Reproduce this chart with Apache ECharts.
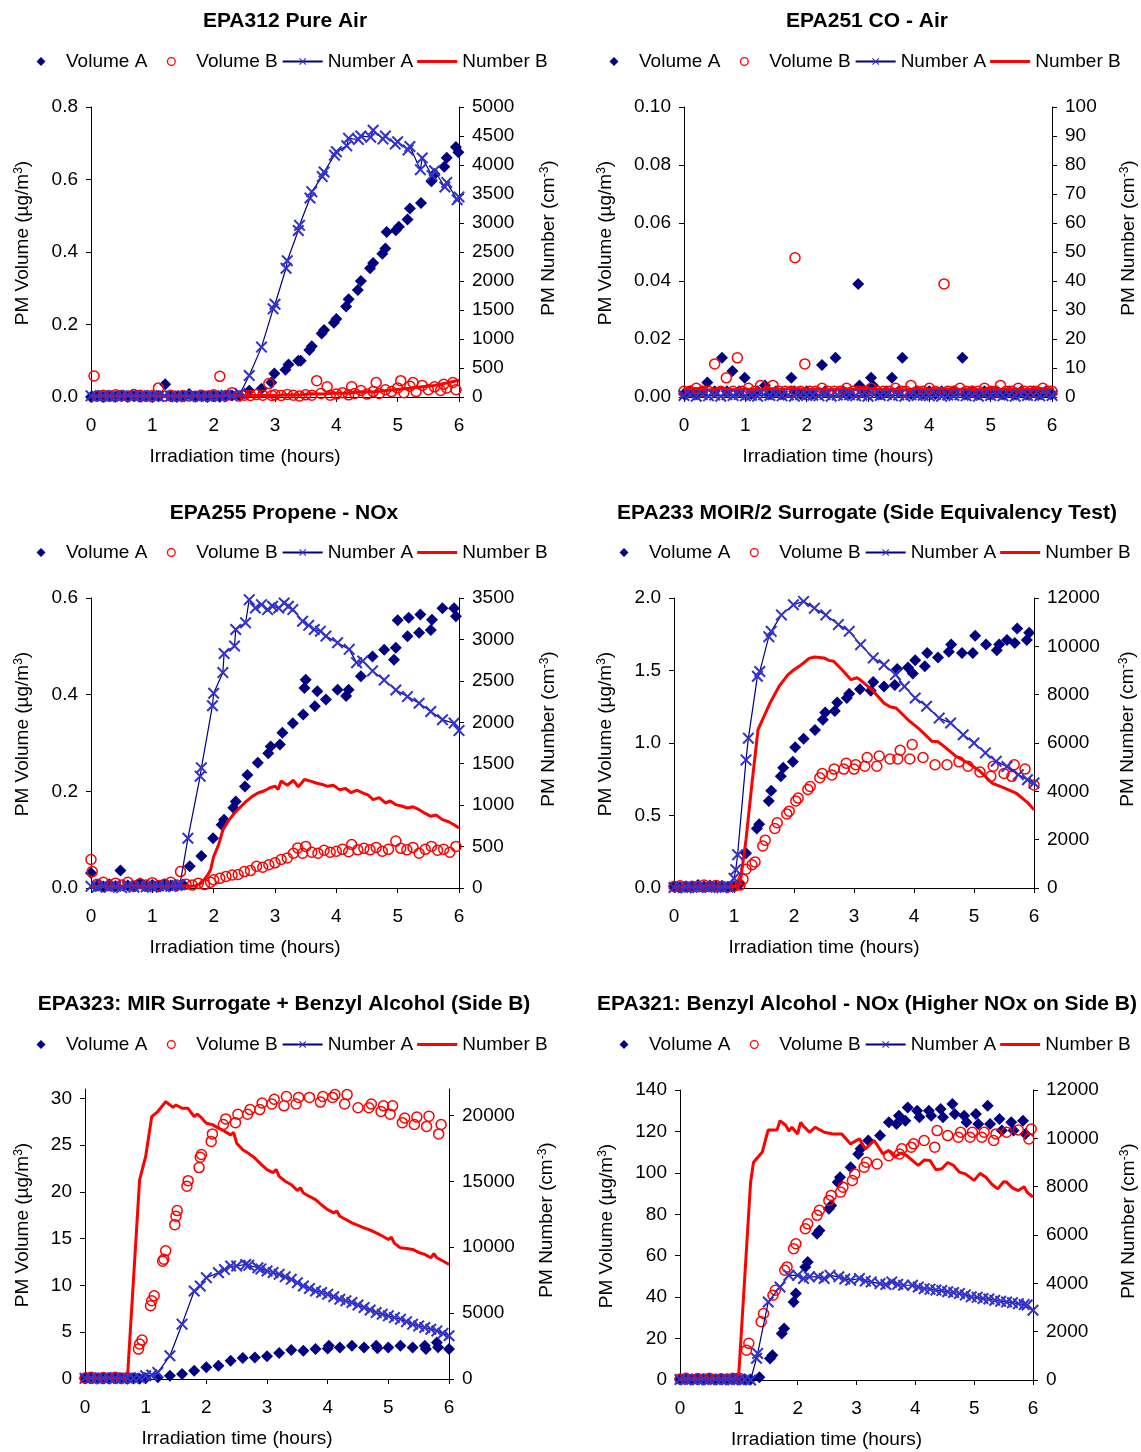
<!DOCTYPE html>
<html>
<head>
<meta charset="utf-8">
<script src="https://cdn.jsdelivr.net/npm/echarts@6/dist/echarts.min.js"></script>
<style>
  html, body { margin: 0; padding: 0; background: #fff; }
  #chart { width: 1141px; height: 1452px; }
</style>
</head>
<body>
<div id="chart"></div>
<script>
// ---- data: [time (hours), value] ----
// EPA312 Pure Air
const epa312VolA = [[0,0],[0.1,0.002],[0.2,0],[0.3,0.003],[0.4,0.001],[0.5,0.002],[0.6,0],[0.7,0.002],[0.8,0.001],[0.9,0.003],[1.0,0],[1.1,0.002],[1.21,0.035],[1.3,0.002],[1.4,0],[1.5,0.002],[1.6,0.008],[1.7,0.001],[1.8,0.002],[1.9,0],[2.0,0.003],[2.1,0.001],[2.2,0.002],[2.3,0.004],[2.43,0.003],[2.58,0.017],[2.78,0.023],[2.94,0.04],[2.99,0.065],[3.17,0.075],[3.22,0.09],[3.38,0.1],[3.42,0.1],[3.56,0.13],[3.6,0.14],[3.76,0.175],[3.8,0.185],[3.96,0.205],[4.0,0.215],[4.16,0.25],[4.2,0.27],[4.35,0.295],[4.4,0.32],[4.55,0.355],[4.6,0.37],[4.75,0.395],[4.8,0.41],[4.82,0.455],[4.97,0.46],[5.02,0.47],[5.16,0.49],[5.2,0.52],[5.38,0.535],[5.55,0.595],[5.6,0.615],[5.76,0.635],[5.8,0.66],[5.95,0.69],[5.99,0.675]];
const epa312VolB = [[0.05,0.058],[0.1,0.003],[0.2,0.005],[0.3,0.002],[0.4,0.006],[0.5,0.004],[0.6,0.003],[0.7,0.007],[0.8,0.005],[0.9,0.002],[1.0,0.004],[1.1,0.025],[1.2,0.003],[1.3,0.005],[1.4,0.002],[1.5,0.004],[1.6,0.003],[1.7,0.002],[1.8,0.005],[1.9,0.003],[2.0,0.006],[2.1,0.057],[2.2,0.004],[2.3,0.012],[2.4,0.003],[2.5,0.005],[2.6,0.004],[2.7,0.007],[2.8,0.005],[2.9,0.037],[2.95,0.004],[3.0,0.006],[3.1,0.004],[3.2,0.007],[3.3,0.005],[3.4,0.003],[3.5,0.006],[3.6,0.005],[3.68,0.045],[3.75,0.01],[3.85,0.028],[3.9,0.005],[4.0,0.008],[4.1,0.012],[4.2,0.006],[4.25,0.028],[4.3,0.01],[4.4,0.018],[4.5,0.008],[4.6,0.015],[4.65,0.04],[4.7,0.01],[4.8,0.02],[4.9,0.015],[5.0,0.025],[5.05,0.045],[5.1,0.012],[5.2,0.03],[5.25,0.04],[5.3,0.015],[5.4,0.032],[5.5,0.02],[5.6,0.028],[5.7,0.018],[5.75,0.035],[5.8,0.025],[5.9,0.04],[5.95,0.02]];
const epa312NumA = [[0,20],[0.1,10],[0.2,25],[0.3,5],[0.4,20],[0.5,15],[0.6,30],[0.7,10],[0.8,20],[0.9,5],[1.0,25],[1.1,10],[1.2,20],[1.3,15],[1.4,5],[1.5,20],[1.6,10],[1.7,25],[1.8,10],[1.9,15],[2.0,20],[2.1,10],[2.2,30],[2.3,30],[2.43,60],[2.58,370],[2.78,860],[2.97,1520],[3.0,1600],[3.18,2220],[3.2,2350],[3.38,2870],[3.4,2960],[3.57,3430],[3.6,3540],[3.77,3800],[3.8,3880],[3.97,4170],[4.0,4230],[4.17,4330],[4.2,4460],[4.36,4440],[4.4,4500],[4.56,4480],[4.6,4600],[4.76,4450],[4.8,4500],[4.96,4360],[5.0,4400],[5.17,4260],[5.2,4320],[5.37,3920],[5.4,4120],[5.56,3820],[5.6,3900],[5.77,3620],[5.8,3700],[5.97,3400],[6.0,3450]];
const epa312NumB = [[0,10],[0.2,20],[0.4,15],[0.6,25],[0.8,15],[1.0,20],[1.2,10],[1.4,20],[1.6,15],[1.8,20],[2.0,10],[2.2,20],[2.4,25],[2.6,20],[2.8,30],[3.0,25],[3.2,40],[3.4,35],[3.6,55],[3.8,50],[4.0,70],[4.2,65],[4.4,90],[4.6,85],[4.8,110],[5.0,130],[5.2,150],[5.4,175],[5.6,200],[5.8,240],[6.0,290]];

// EPA251 CO - Air
const epa251VolA = [[0,0.001],[0.1,0.002],[0.2,0.001],[0.3,0.002],[0.38,0.005],[0.5,0.002],[0.62,0.0135],[0.7,0.002],[0.79,0.009],[0.9,0.002],[0.99,0.0066],[1.1,0.001],[1.2,0.002],[1.32,0.004],[1.4,0.001],[1.5,0.002],[1.6,0.001],[1.75,0.0066],[1.8,0.002],[1.9,0.001],[2.0,0.002],[2.1,0.001],[2.25,0.011],[2.3,0.002],[2.47,0.0135],[2.6,0.002],[2.7,0.001],[2.84,0.039],[2.86,0.004],[2.95,0.002],[3.05,0.0066],[3.08,0.004],[3.2,0.001],[3.3,0.002],[3.39,0.0066],[3.5,0.002],[3.56,0.0135],[3.7,0.001],[3.8,0.002],[3.9,0.001],[4.0,0.002],[4.1,0.001],[4.2,0.002],[4.3,0.001],[4.4,0.002],[4.54,0.0135],[4.6,0.001],[4.7,0.002],[4.8,0.001],[4.9,0.002],[5.0,0.001],[5.1,0.002],[5.2,0.001],[5.3,0.002],[5.4,0.001],[5.5,0.002],[5.6,0.001],[5.7,0.002],[5.8,0.001],[5.9,0.002],[6.0,0.001]];
const epa251VolB = [[0,0.002],[0.1,0.002],[0.2,0.003],[0.3,0.002],[0.4,0.002],[0.5,0.0114],[0.6,0.002],[0.69,0.0066],[0.8,0.002],[0.87,0.0135],[0.95,0.002],[1.05,0.003],[1.15,0.002],[1.25,0.004],[1.35,0.002],[1.45,0.004],[1.55,0.002],[1.65,0.002],[1.75,0.002],[1.81,0.048],[1.9,0.002],[1.97,0.0114],[2.05,0.002],[2.15,0.002],[2.25,0.003],[2.35,0.002],[2.45,0.002],[2.55,0.002],[2.65,0.003],[2.75,0.002],[2.85,0.002],[2.95,0.002],[3.05,0.003],[3.15,0.002],[3.25,0.002],[3.35,0.002],[3.45,0.003],[3.55,0.002],[3.62,0.002],[3.7,0.004],[3.8,0.002],[3.9,0.002],[4.0,0.003],[4.1,0.002],[4.24,0.039],[4.3,0.002],[4.4,0.002],[4.5,0.003],[4.6,0.002],[4.7,0.002],[4.8,0.002],[4.9,0.003],[5.0,0.002],[5.08,0.002],[5.16,0.004],[5.25,0.002],[5.35,0.002],[5.45,0.003],[5.55,0.002],[5.65,0.002],[5.75,0.002],[5.85,0.003],[5.95,0.002],[6.0,0.002]];
const epa251NumA = [[0,0.5],[0.1,0.8],[0.2,0.3],[0.3,0.9],[0.4,0.4],[0.5,0.7],[0.6,0.3],[0.7,0.8],[0.8,0.5],[0.9,0.9],[1.0,0.4],[1.1,0.6],[1.2,0.3],[1.3,0.8],[1.4,0.5],[1.5,0.9],[1.6,0.4],[1.7,0.7],[1.8,0.3],[1.9,0.8],[2.0,0.5],[2.1,0.6],[2.2,0.4],[2.3,0.9],[2.4,0.3],[2.5,0.7],[2.6,0.5],[2.7,0.8],[2.8,0.4],[2.9,0.6],[3.0,0.3],[3.1,0.8],[3.2,0.5],[3.3,0.9],[3.4,0.4],[3.5,0.7],[3.6,0.3],[3.7,0.8],[3.8,0.5],[3.9,0.6],[4.0,0.4],[4.1,0.9],[4.2,0.3],[4.3,0.7],[4.4,0.5],[4.5,0.8],[4.6,0.4],[4.7,0.6],[4.8,0.3],[4.9,0.8],[5.0,0.5],[5.1,0.9],[5.2,0.4],[5.3,0.7],[5.4,0.3],[5.5,0.8],[5.6,0.5],[5.7,0.6],[5.8,0.4],[5.9,0.9],[6.0,0.5]];
const epa251NumB = [[0,2.6],[0.2,2.9],[0.4,2.4],[0.6,3.0],[0.8,2.5],[1.0,2.8],[1.2,2.3],[1.4,2.9],[1.6,2.6],[1.8,3.1],[2.0,2.5],[2.2,2.8],[2.4,2.4],[2.6,2.9],[2.8,2.6],[3.0,3.0],[3.2,2.5],[3.4,2.7],[3.6,2.4],[3.8,2.9],[4.0,2.6],[4.2,3.0],[4.4,2.5],[4.6,2.8],[4.8,2.4],[5.0,2.9],[5.2,2.6],[5.4,2.8],[5.6,2.5],[5.8,2.9],[6.0,2.6]];

// EPA255 Propene - NOx
const epa255VolA = [[0,0.031],[0.1,0.005],[0.2,0.003],[0.3,0.008],[0.4,0.004],[0.48,0.036],[0.6,0.005],[0.7,0.003],[0.8,0.01],[0.9,0.004],[1.0,0.006],[1.1,0.003],[1.2,0.008],[1.3,0.005],[1.4,0.004],[1.5,0.007],[1.61,0.045],[1.8,0.066],[1.99,0.103],[2.13,0.131],[2.17,0.141],[2.32,0.166],[2.36,0.179],[2.51,0.21],[2.55,0.234],[2.72,0.259],[2.89,0.279],[2.93,0.293],[3.08,0.297],[3.12,0.321],[3.29,0.341],[3.46,0.359],[3.48,0.414],[3.5,0.431],[3.65,0.376],[3.69,0.407],[3.83,0.39],[4.02,0.41],[4.16,0.397],[4.2,0.41],[4.4,0.438],[4.59,0.479],[4.78,0.493],[4.94,0.472],[4.97,0.497],[5.0,0.554],[5.16,0.521],[5.18,0.559],[5.35,0.528],[5.37,0.566],[5.54,0.534],[5.56,0.555],[5.73,0.579],[5.92,0.579],[5.95,0.562]];
const epa255VolB = [[0,0.059],[0.02,0.034],[0.1,0.008],[0.2,0.012],[0.3,0.005],[0.4,0.01],[0.5,0.006],[0.6,0.012],[0.7,0.004],[0.8,0.009],[0.9,0.006],[1.0,0.011],[1.1,0.005],[1.2,0.008],[1.3,0.012],[1.4,0.006],[1.46,0.034],[1.55,0.008],[1.65,0.006],[1.75,0.01],[1.85,0.007],[1.95,0.012],[2.0,0.017],[2.1,0.02],[2.2,0.024],[2.3,0.027],[2.4,0.028],[2.5,0.034],[2.6,0.036],[2.7,0.045],[2.8,0.043],[2.9,0.048],[3.0,0.052],[3.1,0.059],[3.2,0.062],[3.3,0.072],[3.37,0.083],[3.45,0.072],[3.5,0.086],[3.6,0.074],[3.7,0.072],[3.8,0.078],[3.9,0.074],[4.0,0.076],[4.1,0.08],[4.2,0.075],[4.25,0.09],[4.35,0.079],[4.45,0.082],[4.55,0.079],[4.65,0.084],[4.75,0.076],[4.85,0.08],[4.97,0.097],[5.05,0.082],[5.15,0.079],[5.25,0.084],[5.35,0.072],[5.45,0.08],[5.55,0.086],[5.65,0.078],[5.75,0.08],[5.85,0.074],[5.95,0.086]];
const epa255NumA = [[0,20],[0.1,10],[0.2,30],[0.3,10],[0.4,20],[0.5,5],[0.6,25],[0.7,10],[0.8,20],[0.9,15],[1.0,10],[1.1,25],[1.2,15],[1.3,20],[1.4,30],[1.45,40],[1.58,600],[1.78,1350],[1.8,1450],[1.98,2200],[2.0,2350],[2.15,2600],[2.17,2830],[2.34,2920],[2.36,3120],[2.52,3200],[2.58,3480],[2.68,3380],[2.78,3420],[2.88,3360],[2.96,3400],[3.06,3380],[3.15,3440],[3.22,3400],[3.29,3360],[3.45,3220],[3.55,3170],[3.64,3120],[3.74,3100],[3.83,3040],[4.02,2960],[4.21,2880],[4.33,2720],[4.43,2740],[4.59,2620],[4.78,2510],[4.97,2390],[5.16,2310],[5.35,2230],[5.54,2130],[5.73,2030],[5.92,1990],[6.0,1900]];
const epa255NumB = [[0,10],[0.2,25],[0.4,15],[0.6,30],[0.8,20],[1.0,25],[1.2,15],[1.4,30],[1.6,20],[1.7,25],[1.8,60],[1.9,150],[1.95,220],[2.0,380],[2.08,520],[2.15,700],[2.25,820],[2.34,905],[2.44,980],[2.53,1046],[2.62,1100],[2.72,1147],[2.82,1170],[2.91,1207],[3.0,1230],[3.05,1190],[3.1,1290],[3.2,1240],[3.3,1300],[3.38,1220],[3.48,1310],[3.58,1290],[3.67,1267],[3.77,1250],[3.86,1227],[3.95,1240],[4.05,1187],[4.15,1200],[4.24,1150],[4.34,1180],[4.43,1147],[4.52,1120],[4.6,1066],[4.7,1090],[4.8,1026],[4.88,1050],[4.97,1006],[5.06,990],[5.16,966],[5.25,980],[5.35,945],[5.45,900],[5.54,865],[5.63,880],[5.73,825],[5.83,800],[5.92,764],[6.0,724]];

// EPA233 MOIR/2 Surrogate
const epa233VolA = [[0,0.01],[0.1,0.005],[0.2,0.012],[0.3,0.008],[0.4,0.02],[0.5,0.01],[0.6,0.018],[0.7,0.012],[0.8,0.015],[0.9,0.006],[1.0,0.01],[1.1,0.03],[1.2,0.24],[1.38,0.41],[1.42,0.44],[1.58,0.6],[1.62,0.67],[1.78,0.77],[1.82,0.83],[1.98,0.87],[2.02,0.97],[2.16,1.03],[2.35,1.09],[2.48,1.16],[2.52,1.21],[2.68,1.22],[2.72,1.28],[2.88,1.31],[2.92,1.34],[3.1,1.37],[3.28,1.36],[3.32,1.42],[3.5,1.39],[3.68,1.4],[3.72,1.51],[3.9,1.52],[3.98,1.48],[4.02,1.57],[4.18,1.53],[4.22,1.62],[4.4,1.59],[4.58,1.63],[4.62,1.68],[4.8,1.62],[4.98,1.62],[5.02,1.74],[5.2,1.68],[5.38,1.64],[5.42,1.68],[5.55,1.71],[5.68,1.69],[5.72,1.79],[5.88,1.71],[5.92,1.76]];
const epa233VolB = [[0,0.01],[0.1,0.015],[0.2,0.008],[0.3,0.012],[0.4,0.01],[0.5,0.02],[0.6,0.012],[0.7,0.018],[0.8,0.01],[0.9,0.008],[1.0,0.012],[1.1,0.02],[1.15,0.06],[1.2,0.13],[1.3,0.16],[1.35,0.18],[1.48,0.29],[1.52,0.33],[1.68,0.41],[1.72,0.45],[1.88,0.51],[1.92,0.53],[2.03,0.6],[2.07,0.62],[2.23,0.68],[2.27,0.7],[2.43,0.76],[2.47,0.79],[2.63,0.78],[2.67,0.82],[2.83,0.82],[2.87,0.86],[3.0,0.82],[3.03,0.85],[3.18,0.84],[3.22,0.9],[3.38,0.84],[3.42,0.91],[3.6,0.89],[3.73,0.89],[3.77,0.95],[3.93,0.89],[3.97,0.99],[4.15,0.9],[4.35,0.85],[4.55,0.85],[4.75,0.87],[4.9,0.84],[5.1,0.8],[5.28,0.77],[5.32,0.84],[5.5,0.79],[5.63,0.77],[5.67,0.85],[5.85,0.82],[6.0,0.71]];
const epa233NumA = [[0,20],[0.1,40],[0.2,10],[0.3,30],[0.4,20],[0.5,50],[0.6,20],[0.7,30],[0.8,10],[0.9,40],[1.0,400],[1.03,760],[1.06,1380],[1.2,5300],[1.24,6200],[1.39,8760],[1.43,8960],[1.58,10400],[1.62,10620],[1.79,11300],[1.99,11720],[2.16,11860],[2.34,11580],[2.53,11300],[2.74,10900],[2.92,10620],[3.11,10070],[3.32,9520],[3.5,9240],[3.69,8830],[3.84,8340],[4.02,7860],[4.21,7520],[4.42,7030],[4.61,6830],[4.82,6340],[5.0,6000],[5.19,5590],[5.37,5240],[5.55,5030],[5.74,4690],[5.89,4480],[6.0,4340]];
const epa233NumB = [[0,30],[0.2,60],[0.4,40],[0.6,80],[0.8,50],[1.0,60],[1.05,100],[1.1,140],[1.2,2000],[1.3,4340],[1.4,6550],[1.5,7100],[1.6,7650],[1.75,8340],[1.9,8830],[2.0,9030],[2.1,9200],[2.16,9310],[2.25,9500],[2.34,9560],[2.42,9540],[2.5,9520],[2.58,9420],[2.66,9380],[2.8,9030],[2.95,8620],[3.05,8700],[3.1,8620],[3.3,8200],[3.5,7650],[3.6,7500],[3.7,7450],[3.9,6960],[4.1,6550],[4.3,6070],[4.4,6050],[4.5,5860],[4.7,5450],[4.9,5170],[5.1,4830],[5.3,4340],[5.5,4140],[5.7,3930],[5.9,3520],[6.0,3240]];

// EPA323 MIR Surrogate + Benzyl Alcohol
const epa323VolA = [[0,0.05],[0.1,0.08],[0.2,0.03],[0.3,0.06],[0.4,0.04],[0.5,0.07],[0.6,0.05],[0.7,0.03],[0.8,0.06],[0.9,0.04],[1.0,0.08],[1.2,0.18],[1.4,0.36],[1.6,0.53],[1.8,0.89],[2.0,1.25],[2.2,1.42],[2.4,1.96],[2.6,2.24],[2.8,2.31],[3.0,2.42],[3.2,2.78],[3.4,3.1],[3.6,3.02],[3.8,3.2],[4.0,3.27],[4.02,3.56],[4.2,3.38],[4.4,3.56],[4.6,3.38],[4.8,3.56],[4.82,3.3],[5.0,3.38],[5.2,3.56],[5.4,3.38],[5.6,3.56],[5.62,3.2],[5.8,3.91],[5.82,3.4],[6.0,3.2]];
const epa323VolB = [[0,0.1],[0.1,0.2],[0.2,0.05],[0.3,0.15],[0.4,0.1],[0.5,0.2],[0.6,0.05],[0.7,0.15],[0.88,3.2],[0.9,3.74],[0.94,4.16],[1.08,7.83],[1.1,8.36],[1.14,8.9],[1.28,12.6],[1.3,12.8],[1.33,13.7],[1.48,16.5],[1.5,17.4],[1.52,18.0],[1.68,20.6],[1.7,21.2],[1.88,22.6],[1.9,23.7],[1.92,24.0],[2.08,25.4],[2.1,26.2],[2.28,27.2],[2.32,27.8],[2.48,27.4],[2.52,28.3],[2.68,28.3],[2.72,28.8],[2.88,28.8],[2.92,29.5],[3.08,29.4],[3.12,29.9],[3.28,29.2],[3.32,30.2],[3.48,29.4],[3.52,30.1],[3.7,30.1],[3.88,29.6],[3.92,30.2],[4.08,30.1],[4.12,30.4],[4.28,29.4],[4.32,30.4],[4.5,29.0],[4.68,29.0],[4.72,29.4],[4.88,28.6],[4.92,29.2],[5.03,28.3],[5.07,29.2],[5.23,27.4],[5.27,27.9],[5.43,27.2],[5.47,28.0],[5.63,27.0],[5.67,28.1],[5.83,26.2],[5.87,27.2]];
const epa323NumA = [[0,50],[0.1,100],[0.2,30],[0.3,80],[0.4,50],[0.5,100],[0.6,40],[0.7,80],[0.8,60],[0.9,100],[1.0,250],[1.1,300],[1.2,500],[1.4,1760],[1.6,4160],[1.8,6680],[1.9,7060],[2.0,7690],[2.2,8060],[2.3,8300],[2.4,8570],[2.5,8570],[2.65,8690],[2.7,8620],[2.85,8440],[2.9,8350],[3.0,8190],[3.1,8080],[3.2,7940],[3.3,7750],[3.4,7560],[3.5,7300],[3.6,7060],[3.7,6870],[3.8,6680],[3.9,6560],[4.0,6430],[4.1,6240],[4.2,6050],[4.3,5930],[4.4,5800],[4.5,5610],[4.6,5420],[4.7,5230],[4.8,5040],[4.9,4920],[5.0,4790],[5.1,4660],[5.2,4540],[5.3,4350],[5.4,4160],[5.5,4030],[5.6,3910],[5.7,3780],[5.8,3650],[5.9,3460],[6.0,3280]];
const epa323NumB = [[0,100],[0.2,50],[0.4,80],[0.6,60],[0.7,100],[0.72,250],[0.9,15100],[1.0,16880],[1.1,19900],[1.2,20290],[1.33,21040],[1.4,20790],[1.45,20600],[1.5,20790],[1.6,20540],[1.7,20540],[1.75,20200],[1.8,19910],[1.85,20100],[1.9,19910],[2.0,19400],[2.1,19300],[2.2,19030],[2.3,18800],[2.4,18520],[2.45,18700],[2.5,17890],[2.6,17390],[2.7,17100],[2.8,16760],[2.9,16300],[3.0,15880],[3.1,15650],[3.15,15900],[3.2,15370],[3.3,15000],[3.4,14740],[3.5,14300],[3.55,14500],[3.6,14110],[3.7,13850],[3.8,13610],[3.9,13200],[4.0,12850],[4.1,12600],[4.15,12750],[4.2,12350],[4.3,12100],[4.4,11840],[4.5,11650],[4.6,11470],[4.7,11300],[4.8,11090],[4.9,10850],[5.0,10580],[5.05,10750],[5.1,10300],[5.2,9950],[5.3,9900],[5.4,9830],[5.5,9600],[5.6,9450],[5.7,9200],[5.75,9500],[5.8,9200],[5.9,8950],[6.0,8690]];

// EPA321 Benzyl Alcohol - NOx
const epa321VolA = [[0,0.3],[0.1,0.5],[0.2,0.2],[0.3,0.4],[0.4,0.3],[0.5,0.6],[0.6,0.2],[0.7,0.4],[0.8,0.3],[0.9,0.5],[1.0,0.2],[1.1,0.4],[1.2,0.3],[1.35,1.3],[1.53,10.4],[1.57,12.0],[1.73,22.5],[1.77,24.9],[1.93,37.7],[1.97,41.7],[2.13,54.6],[2.17,57.0],[2.33,70.6],[2.37,72.2],[2.53,82.7],[2.57,84.3],[2.68,95.5],[2.72,97.9],[2.9,102.7],[3.03,109.1],[3.07,111.6],[3.2,115.6],[3.4,118.0],[3.55,124.4],[3.68,123.6],[3.72,127.6],[3.83,125.2],[3.87,131.6],[4.03,130.0],[4.07,126.8],[4.23,130.0],[4.27,127.6],[4.43,130.8],[4.47,126.8],[4.63,133.2],[4.67,128.4],[4.83,127.6],[4.87,124.4],[5.03,128.4],[5.07,123.6],[5.23,132.4],[5.27,123.6],[5.43,126.0],[5.47,120.4],[5.63,124.4],[5.67,120.4],[5.83,125.2],[5.87,118.8]];
const epa321VolB = [[0,0.5],[0.1,0.8],[0.2,0.4],[0.3,0.7],[0.4,0.5],[0.5,0.9],[0.6,0.4],[0.7,0.6],[0.8,0.5],[0.9,0.8],[1.0,1.0],[1.13,14.4],[1.17,17.7],[1.38,28.1],[1.42,32.1],[1.58,40.9],[1.62,43.3],[1.78,53.0],[1.82,54.6],[1.93,63.4],[1.97,65.8],[2.13,73.0],[2.17,75.4],[2.33,79.5],[2.37,81.9],[2.53,86.7],[2.57,89.1],[2.73,90.7],[2.77,93.1],[2.93,96.3],[2.97,99.5],[3.13,102.7],[3.17,105.1],[3.35,104.3],[3.55,108.3],[3.73,109.1],[3.77,111.6],[3.93,112.4],[3.97,114.0],[4.15,115.6],[4.33,112.4],[4.37,120.4],[4.55,118.0],[4.73,117.2],[4.77,119.6],[4.93,117.2],[4.97,119.6],[5.13,117.2],[5.17,119.6],[5.33,115.6],[5.37,118.8],[5.55,119.6],[5.75,120.7],[5.93,116.4],[5.97,121.2]];
const epa321NumA = [[0,20],[0.1,10],[0.2,30],[0.3,10],[0.4,20],[0.5,10],[0.6,25],[0.7,10],[0.8,20],[0.9,10],[1.0,20],[1.1,10],[1.2,0],[1.3,900],[1.32,1100],[1.5,3230],[1.7,3850],[1.85,4330],[2.0,4330],[2.1,4200],[2.2,4270],[2.35,4270],[2.45,4200],[2.55,4330],[2.7,4270],[2.8,4180],[2.9,4130],[3.05,4200],[3.15,4100],[3.25,4060],[3.4,3990],[3.5,3950],[3.6,4060],[3.7,3960],[3.8,3920],[3.95,3920],[4.05,3850],[4.15,3780],[4.25,3760],[4.35,3720],[4.45,3700],[4.55,3650],[4.65,3620],[4.75,3580],[4.85,3520],[4.95,3440],[5.05,3420],[5.15,3370],[5.25,3350],[5.35,3300],[5.45,3260],[5.55,3230],[5.65,3200],[5.75,3160],[5.85,3120],[5.9,3100],[6.0,2890]];
const epa321NumB = [[0,50],[0.2,30],[0.4,60],[0.6,40],[0.8,50],[0.95,60],[1.0,275],[1.2,8190],[1.25,9010],[1.4,9430],[1.45,9910],[1.5,10350],[1.65,10350],[1.7,10730],[1.8,10530],[1.85,10300],[1.9,10460],[2.0,10180],[2.05,10660],[2.1,10500],[2.2,10250],[2.3,10460],[2.45,10250],[2.6,10180],[2.75,10180],[2.9,9770],[3.05,9980],[3.15,9560],[3.3,9910],[3.45,9360],[3.55,9500],[3.65,9220],[3.75,9400],[3.85,9290],[4.05,8880],[4.15,9100],[4.25,9080],[4.35,8700],[4.45,8740],[4.55,9000],[4.65,8880],[4.75,8600],[4.85,8530],[5.0,8260],[5.1,8550],[5.2,8390],[5.3,8100],[5.4,7910],[5.5,8200],[5.55,8190],[5.65,7950],[5.75,7840],[5.85,8000],[5.9,7770],[6.0,7570]];

// tick labels
const hourTicks = [0, 1, 2, 3, 4, 5, 6];
const epa312VolTicks = [0, 0.2, 0.4, 0.6, 0.8];
const epa312NumTicks = [0, 500, 1000, 1500, 2000, 2500, 3000, 3500, 4000, 4500, 5000];
const epa251VolTicks = [0, 0.02, 0.04, 0.06, 0.08, 0.1];
const epa251NumTicks = [0, 10, 20, 30, 40, 50, 60, 70, 80, 90, 100];
const epa255VolTicks = [0, 0.2, 0.4, 0.6];
const epa255NumTicks = [0, 500, 1000, 1500, 2000, 2500, 3000, 3500];
const epa233VolTicks = [0, 0.5, 1.0, 1.5, 2.0];
const epa233NumTicks = [0, 2000, 4000, 6000, 8000, 10000, 12000];
const epa323VolTicks = [0, 5, 10, 15, 20, 25, 30];
const epa323NumTicks = [0, 5000, 10000, 15000, 20000];
const epa321VolTicks = [0, 20, 40, 60, 80, 100, 120, 140];
const epa321NumTicks = [0, 2000, 4000, 6000, 8000, 10000, 12000];

// ---- layout / per panel config ----
const panels = [
  { title: 'EPA312 Pure Air', tx: 285, ty: 21, box: [91, 107, 368, 290], legendX: 21, legendY: 52,
    volMax: 0.8, volTicks: epa312VolTicks, volDigits: 1, numMax: 5000, numTicks: epa312NumTicks, volGap: 59, numGap: 80,
    data: [epa312VolA, epa312VolB, epa312NumA, epa312NumB] },
  { title: 'EPA251 CO - Air', tx: 867, ty: 21, box: [684, 107, 368, 290], legendX: 594, legendY: 52,
    volMax: 0.1, volTicks: epa251VolTicks, volDigits: 2, numMax: 100, numTicks: epa251NumTicks, volGap: 69, numGap: 67,
    data: [epa251VolA, epa251VolB, epa251NumA, epa251NumB] },
  { title: 'EPA255 Propene - NOx', tx: 284, ty: 513, box: [91, 598, 368, 290], legendX: 21, legendY: 543,
    volMax: 0.6, volTicks: epa255VolTicks, volDigits: 1, numMax: 3500, numTicks: epa255NumTicks, volGap: 59, numGap: 80,
    data: [epa255VolA, epa255VolB, epa255NumA, epa255NumB] },
  { title: 'EPA233 MOIR/2 Surrogate (Side Equivalency Test)', tx: 867, ty: 513, box: [674, 598, 360, 290], legendX: 604, legendY: 543,
    volMax: 2.0, volTicks: epa233VolTicks, volDigits: 1, numMax: 12000, numTicks: epa233NumTicks, volGap: 59, numGap: 84,
    data: [epa233VolA, epa233VolB, epa233NumA, epa233NumB] },
  { title: 'EPA323: MIR Surrogate + Benzyl Alcohol (Side B)', tx: 284, ty: 1004, box: [85, 1089, 364, 290], legendX: 21, legendY: 1035,
    volMax: 31, volTicks: epa323VolTicks, volDigits: 0, numMax: 22000, numTicks: epa323NumTicks, volGap: 53, numGap: 88,
    data: [epa323VolA, epa323VolB, epa323NumA, epa323NumB] },
  { title: 'EPA321: Benzyl Alcohol - NOx (Higher NOx on Side B)', tx: 867, ty: 1004, box: [680, 1090, 353, 290], legendX: 604, legendY: 1035,
    volMax: 140, volTicks: epa321VolTicks, volDigits: 0, numMax: 12000, numTicks: epa321NumTicks, volGap: 64, numGap: 86,
    data: [epa321VolA, epa321VolB, epa321NumA, epa321NumB] }
];

const FONT = '"Liberation Sans", Arial, sans-serif';
const X_MARK = 'path://M1.2,0L5,3.8L8.8,0L10,1.2L6.2,5L10,8.8L8.8,10L5,6.2L1.2,10L0,8.8L3.8,5L0,1.2Z';
// legend icons: the two lone points fix the 40x9 box so the shape keeps its size
const ICON_DIAMOND = 'path://M0,0L0,0M40,9L40,9M20,0L24.5,4.5L20,9L15.5,4.5Z';
const ICON_RING = 'path://M0,0L0,0M40,9L40,9M24.5,4.5A4.5,4.5,0,1,0,15.5,4.5A4.5,4.5,0,1,0,24.5,4.5ZM23.2,4.5A3.2,3.2,0,1,1,16.8,4.5A3.2,3.2,0,1,1,23.2,4.5Z';
const ICON_BAR = 'path://M0,0L0,0M40,9L40,9M0,3L40,3L40,6L0,6Z';
const supRich = { s: { fontSize: 12, verticalAlign: 'top', fontFamily: FONT, color: '#000' } };

let chart = echarts.init(document.getElementById('chart'));

let option = {
  animation: false,
  backgroundColor: '#fff',
  textStyle: { fontFamily: FONT },
  grid: [], xAxis: [], yAxis: [], series: [], legend: [], graphic: []
};

panels.forEach((p, i) => {
  option.grid.push({ left: p.box[0], top: p.box[1], width: p.box[2], height: p.box[3] });

  option.graphic.push({
    type: 'text', x: p.tx, y: p.ty,
    style: { text: p.title, fontFamily: FONT, fontSize: 21, fontWeight: 'bold', fill: '#000', align: 'center', verticalAlign: 'middle' }
  });

  option.legend.push({
    left: p.legendX, top: p.legendY, orient: 'horizontal', padding: 0,
    itemWidth: 40, itemHeight: 9, itemGap: 4, selectedMode: false,
    data: [
      { name: 'Volume A', icon: ICON_DIAMOND },
      { name: 'Volume B', icon: ICON_RING, itemStyle: { color: '#FF0000', borderWidth: 0 } },
      { name: 'Number A' },
      { name: 'Number B', icon: ICON_BAR }
    ],
    textStyle: { fontSize: 19, color: '#000', fontFamily: FONT }
  });

  option.xAxis.push({
    type: 'value', gridIndex: i, min: 0, max: 6, interval: 1,
    name: 'Irradiation time (hours)', nameLocation: 'middle', nameGap: 50,
    nameTextStyle: { fontSize: 19, color: '#000', fontFamily: FONT, padding: [0, 60, 0, 0] },
    axisLine: { lineStyle: { color: '#000', width: 1 } },
    axisTick: { length: 5, lineStyle: { color: '#000' }, customValues: hourTicks },
    axisLabel: { fontSize: 19, color: '#000', margin: 19, customValues: hourTicks },
    splitLine: { show: false }
  });

  option.yAxis.push({
    type: 'value', gridIndex: i, position: 'left', min: 0, max: p.volMax,
    name: 'PM Volume (µg/m{s|3})', nameLocation: 'middle', nameGap: p.volGap, nameRotate: 90,
    nameTextStyle: { fontSize: 19, color: '#000', fontFamily: FONT, padding: [0, 0, 0, 18], rich: supRich },
    axisLine: { show: true, lineStyle: { color: '#000', width: 1 } },
    axisTick: { show: true, length: 5, lineStyle: { color: '#000' }, customValues: p.volTicks },
    axisLabel: { fontSize: 19, color: '#000', margin: 13, customValues: p.volTicks,
      formatter: v => v.toFixed(p.volDigits) },
    splitLine: { show: false }
  });

  option.yAxis.push({
    type: 'value', gridIndex: i, position: 'right', min: 0, max: p.numMax,
    name: 'PM Number (cm{s|-3})', nameLocation: 'middle', nameGap: p.numGap, nameRotate: 90,
    nameTextStyle: { fontSize: 19, color: '#000', fontFamily: FONT, padding: [0, 0, 0, 28], rich: supRich },
    axisLine: { show: true, lineStyle: { color: '#000', width: 1 } },
    axisTick: { show: true, length: 5, lineStyle: { color: '#000' }, customValues: p.numTicks },
    axisLabel: { fontSize: 19, color: '#000', margin: 13, customValues: p.numTicks,
      formatter: v => String(v) },
    splitLine: { show: false }
  });

  option.series.push(
    { type: 'scatter', name: 'Volume A', xAxisIndex: i, yAxisIndex: 2 * i, data: p.data[0],
      symbol: 'diamond', symbolSize: 12, itemStyle: { color: '#000080', opacity: 1 } },
    { type: 'scatter', name: 'Volume B', xAxisIndex: i, yAxisIndex: 2 * i, data: p.data[1],
      symbol: 'circle', symbolSize: 10,
      itemStyle: { color: 'rgba(255,255,255,0)', borderColor: '#FF0000', borderWidth: 1.5, opacity: 1 } },
    { type: 'line', name: 'Number A', xAxisIndex: i, yAxisIndex: 2 * i + 1, data: p.data[2],
      symbol: X_MARK, symbolSize: 12, showSymbol: true,
      lineStyle: { color: '#000080', width: 1.2 }, itemStyle: { color: '#3333CC' } },
    { type: 'line', name: 'Number B', xAxisIndex: i, yAxisIndex: 2 * i + 1, data: p.data[3],
      symbol: 'none', lineStyle: { color: '#FF0000', width: 3 }, itemStyle: { color: '#FF0000' } }
  );
});

chart.setOption(option);
window.addEventListener('resize', () => { chart.resize(); });
</script>
</body>
</html>
